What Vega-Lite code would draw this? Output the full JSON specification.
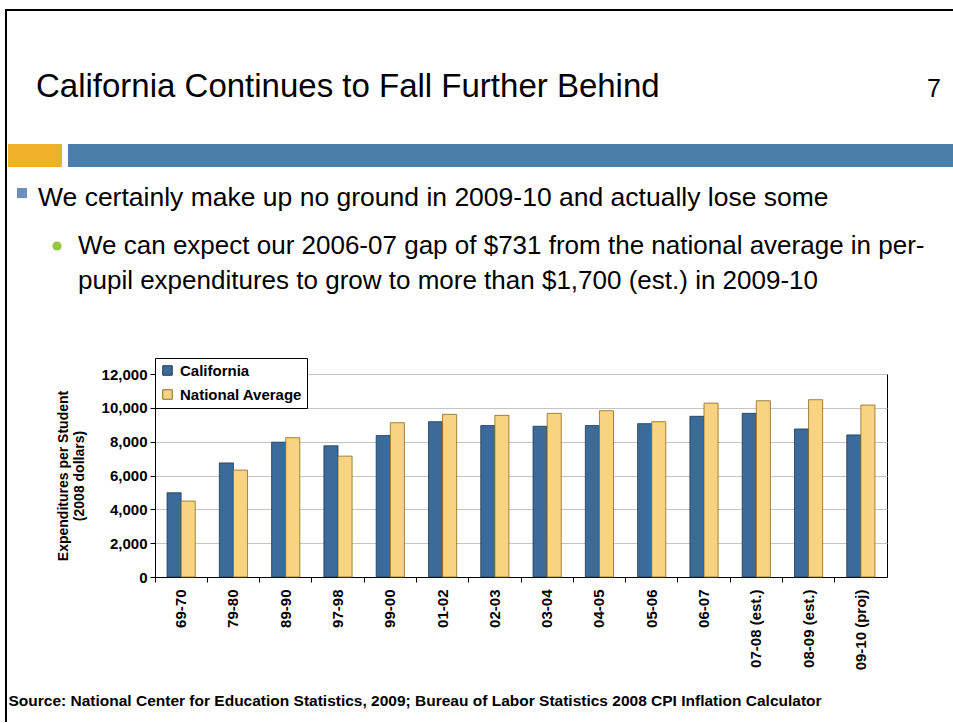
{
  "$schema": "https://vega.github.io/schema/vega-lite/v6.json",
  "autosize": {"type": "pad"},
  "padding": {"left": 5, "top": 9, "right": 0, "bottom": 0},
  "background": "white",
  "bounds": "flush",
  "align": "each",
  "columns": 7,
  "spacing": 0,
  "resolve": {
    "scale": {"color": "independent", "stroke": "independent"},
    "legend": {"color": "independent", "stroke": "independent"}
  },
  "config": {
    "view": {"stroke": null},
    "font": "Liberation Sans, Arial, sans-serif"
  },
  "datasets": {
    "spend": [
      {"period": "69-70", "series": "California", "value": 4980},
      {"period": "69-70", "series": "National Average", "value": 4490},
      {"period": "79-80", "series": "California", "value": 6745},
      {"period": "79-80", "series": "National Average", "value": 6320},
      {"period": "89-90", "series": "California", "value": 7970},
      {"period": "89-90", "series": "National Average", "value": 8235},
      {"period": "97-98", "series": "California", "value": 7755},
      {"period": "97-98", "series": "National Average", "value": 7145},
      {"period": "99-00", "series": "California", "value": 8360},
      {"period": "99-00", "series": "National Average", "value": 9120},
      {"period": "01-02", "series": "California", "value": 9180},
      {"period": "01-02", "series": "National Average", "value": 9615},
      {"period": "02-03", "series": "California", "value": 8950},
      {"period": "02-03", "series": "National Average", "value": 9555},
      {"period": "03-04", "series": "California", "value": 8910},
      {"period": "03-04", "series": "National Average", "value": 9675},
      {"period": "04-05", "series": "California", "value": 8950},
      {"period": "04-05", "series": "National Average", "value": 9830},
      {"period": "05-06", "series": "California", "value": 9065},
      {"period": "05-06", "series": "National Average", "value": 9180},
      {"period": "06-07", "series": "California", "value": 9500},
      {"period": "06-07", "series": "National Average", "value": 10280},
      {"period": "07-08 (est.)", "series": "California", "value": 9675},
      {"period": "07-08 (est.)", "series": "National Average", "value": 10420},
      {"period": "08-09 (est.)", "series": "California", "value": 8750},
      {"period": "08-09 (est.)", "series": "National Average", "value": 10480},
      {"period": "09-10 (proj)", "series": "California", "value": 8400},
      {"period": "09-10 (proj)", "series": "National Average", "value": 10165}
    ],
    "bullets": [
      {"line": 1, "level": 1, "text": "We certainly make up no ground in 2009-10 and actually lose some"},
      {"line": 2, "level": 2, "text": "We can expect our 2006-07 gap of $731 from the national average in per-"},
      {"line": 3, "level": 2, "text": "pupil expenditures to grow to more than $1,700 (est.) in 2009-10"}
    ]
  },
  "concat": [
    {"width": 2, "height": 2, "data": {"values": []}, "mark": {"type": "rule"}, "encoding": {}, "view": {"fill": "#000000", "stroke": null}},
    {"width": 1, "height": 2, "data": {"values": []}, "mark": {"type": "rule"}, "encoding": {}, "view": {"fill": "#000000", "stroke": null}},
    {"width": 54, "height": 2, "data": {"values": []}, "mark": {"type": "rule"}, "encoding": {}, "view": {"fill": "#000000", "stroke": null}},
    {"width": 6, "height": 2, "data": {"values": []}, "mark": {"type": "rule"}, "encoding": {}, "view": {"fill": "#000000", "stroke": null}},
    {"width": 87, "height": 2, "data": {"values": []}, "mark": {"type": "rule"}, "encoding": {}, "view": {"fill": "#000000", "stroke": null}},
    {"width": 732, "height": 2, "data": {"values": []}, "mark": {"type": "rule"}, "encoding": {}, "view": {"fill": "#000000", "stroke": null}},
    {"width": 66, "height": 2, "data": {"values": []}, "mark": {"type": "rule"}, "encoding": {}, "view": {"fill": "#000000", "stroke": null}},

    {"width": 2, "height": 133, "data": {"values": []}, "mark": {"type": "rule"}, "encoding": {}, "view": {"fill": "#000000", "stroke": null}},
    {"width": 1, "height": 133, "data": {"values": []}, "mark": {"type": "rule"}, "encoding": {}},
    {"width": 54, "height": 133, "data": {"values": []}, "mark": {"type": "rule"}, "encoding": {}},
    {"width": 6, "height": 133, "data": {"values": []}, "mark": {"type": "rule"}, "encoding": {}},
    {"width": 87, "height": 133, "data": {"values": []}, "mark": {"type": "rule"}, "encoding": {}},
    {"width": 732, "height": 133, "data": {"values": []}, "mark": {"type": "rule"}, "encoding": {}},
    {"width": 66, "height": 133, "data": {"values": []}, "mark": {"type": "rule"}, "encoding": {}},

    {"width": 2, "height": 23, "data": {"values": []}, "mark": {"type": "rule"}, "encoding": {}, "view": {"fill": "#000000", "stroke": null}},
    {"width": 1, "height": 23, "data": {"values": []}, "mark": {"type": "rule"}, "encoding": {}},
    {
      "width": 54, "height": 23,
      "data": {"values": []}, "mark": {"type": "rule"}, "encoding": {},
      "view": {"fill": "#EFB12A", "stroke": null},
      "title": {
        "text": "California Continues to Fall Further Behind",
        "anchor": "start", "frame": "group", "dx": 28, "offset": 14,
        "baseline": "alphabetic", "fontSize": 33, "fontWeight": "normal", "color": "#000000"
      }
    },
    {"width": 6, "height": 23, "data": {"values": []}, "mark": {"type": "rule"}, "encoding": {}},
    {"width": 87, "height": 23, "data": {"values": []}, "mark": {"type": "rule"}, "encoding": {}, "view": {"fill": "#4B7EA8", "stroke": null}},
    {"width": 732, "height": 23, "data": {"values": []}, "mark": {"type": "rule"}, "encoding": {}, "view": {"fill": "#4B7EA8", "stroke": null}},
    {
      "width": 66, "height": 23,
      "data": {"values": []}, "mark": {"type": "rule"}, "encoding": {},
      "view": {"fill": "#4B7EA8", "stroke": null},
      "title": {
        "text": "7",
        "anchor": "end", "frame": "group", "dx": -12, "offset": 22,
        "baseline": "alphabetic", "fontSize": 25, "fontWeight": "normal", "color": "#000000"
      }
    },

    {"width": 2, "height": 207, "data": {"values": []}, "mark": {"type": "rule"}, "encoding": {}, "view": {"fill": "#000000", "stroke": null}},
    {"width": 1, "height": 207, "data": {"values": []}, "mark": {"type": "rule"}, "encoding": {}},
    {"width": 54, "height": 207, "data": {"values": []}, "mark": {"type": "rule"}, "encoding": {}},
    {"width": 6, "height": 207, "data": {"values": []}, "mark": {"type": "rule"}, "encoding": {}},
    {
      "width": 87, "height": 207,
      "data": {"name": "bullets"},
      "resolve": {"scale": {"x": "independent", "y": "independent"}},
      "layer": [
        {
          "transform": [{"filter": "datum.level == 1"}],
          "mark": {"type": "text", "align": "left", "baseline": "alphabetic", "fontSize": 26.5, "dy": -13, "color": "#000000"},
          "encoding": {
            "x": {"field": "level", "type": "ordinal", "scale": {"type": "point", "domain": [1, 2], "range": [-30, 10], "padding": 0}, "axis": null},
            "y": {"field": "line", "type": "ordinal", "scale": {"type": "point", "domain": [1, 2, 3], "range": [52, 122], "padding": 0}, "axis": null},
            "text": {"field": "text"}
          }
        },
        {
          "transform": [{"filter": "datum.level == 2"}],
          "mark": {"type": "text", "align": "left", "baseline": "alphabetic", "fontSize": 26, "color": "#000000"},
          "encoding": {
            "x": {"field": "level", "type": "ordinal", "scale": {"type": "point", "domain": [1, 2], "range": [-30, 10], "padding": 0}, "axis": null},
            "y": {"field": "line", "type": "ordinal", "scale": {"type": "point", "domain": [1, 2, 3], "range": [52, 122], "padding": 0}, "axis": null},
            "text": {"field": "text"}
          }
        },
        {
          "transform": [{"filter": "datum.level == 1"}],
          "mark": {"type": "point", "shape": "square", "filled": true, "size": 100, "color": "#6C90B8", "opacity": 1},
          "encoding": {
            "x": {"field": "level", "type": "ordinal", "scale": {"type": "point", "domain": [1, 2], "range": [-46, -11], "padding": 0}, "axis": null},
            "y": {"field": "line", "type": "ordinal", "scale": {"type": "point", "domain": [1, 2, 3], "range": [26, 96], "padding": 0}, "axis": null}
          }
        },
        {
          "transform": [{"filter": "datum.level == 2 && datum.line == 2"}],
          "mark": {"type": "point", "shape": "circle", "filled": true, "size": 85, "color": "#92C83E", "opacity": 1},
          "encoding": {
            "x": {"field": "level", "type": "ordinal", "scale": {"type": "point", "domain": [1, 2], "range": [-46, -11], "padding": 0}, "axis": null},
            "y": {"field": "line", "type": "ordinal", "scale": {"type": "point", "domain": [1, 2, 3], "range": [44, 114], "padding": 0}, "axis": null}
          }
        }
      ]
    },
    {"width": 732, "height": 207, "data": {"values": []}, "mark": {"type": "rule"}, "encoding": {}},
    {"width": 66, "height": 207, "data": {"values": []}, "mark": {"type": "rule"}, "encoding": {}},

    {"width": 2, "height": 203, "data": {"values": []}, "mark": {"type": "rule"}, "encoding": {}, "view": {"fill": "#000000", "stroke": null}},
    {"width": 1, "height": 203, "data": {"values": []}, "mark": {"type": "rule"}, "encoding": {}},
    {"width": 54, "height": 203, "data": {"values": []}, "mark": {"type": "rule"}, "encoding": {}},
    {"width": 6, "height": 203, "data": {"values": []}, "mark": {"type": "rule"}, "encoding": {}},
    {"width": 87, "height": 203, "data": {"values": []}, "mark": {"type": "rule"}, "encoding": {}},
    {
      "width": 732,
      "height": 203,
      "data": {"name": "spend"},
      "view": {"stroke": "#000000", "strokeWidth": 1},
      "mark": {"type": "bar", "strokeWidth": 0.8},
      "encoding": {
        "x": {
          "field": "period",
          "type": "nominal",
          "sort": null,
          "scale": {"paddingInner": 0, "paddingOuter": 0},
          "axis": {
            "title": "Source: National Center for Education Statistics, 2009; Bureau of Labor Statistics 2008 CPI Inflation Calculator",
            "titleX": -147,
            "titleY": 128,
            "titleAlign": "left",
            "titleAnchor": "start",
            "titleBaseline": "alphabetic",
            "titleFontSize": 15.5,
            "titleFontWeight": "bold",
            "titleColor": "#000000",
            "labelAngle": -90,
            "bandPosition": 0,
            "labelFontSize": 15,
            "labelFontWeight": "bold",
            "labelColor": "#000000",
            "labelPadding": 7,
            "tickSize": 5,
            "tickColor": "#000000",
            "domainColor": "#000000",
            "grid": false
          }
        },
        "xOffset": {
          "field": "series",
          "type": "nominal",
          "sort": ["California", "National Average"],
          "scale": {"paddingOuter": 0.855, "paddingInner": 0}
        },
        "y": {
          "field": "value",
          "type": "quantitative",
          "scale": {"domain": [0, 12000]},
          "axis": {
            "values": [0, 2000, 4000, 6000, 8000, 10000, 12000],
            "format": ",d",
            "title": ["Expenditures per Student", "(2008 dollars)"],
            "titleFontSize": 14,
            "titleFontWeight": "bold",
            "titleColor": "#000000",
            "titlePadding": 15,
            "labelFontSize": 15,
            "labelFontWeight": "bold",
            "labelColor": "#000000",
            "labelPadding": 3,
            "tickSize": 5,
            "tickColor": "#000000",
            "domainColor": "#000000",
            "gridColor": "#C4C4C4",
            "gridWidth": 1
          }
        },
        "color": {
          "field": "series",
          "type": "nominal",
          "scale": {"domain": ["California", "National Average"], "range": ["#3B6C99", "#F8D381"]},
          "legend": {
            "orient": "none",
            "legendX": 0,
            "legendY": -16,
            "direction": "vertical",
            "title": null,
            "fillColor": "#FFFFFF",
            "strokeColor": "#000000",
            "padding": 5,
            "symbolType": "square",
            "symbolSize": 90,
            "symbolStrokeColor": "#222222",
            "symbolStrokeWidth": 1,
            "symbolOpacity": 1,
            "labelFontSize": 15,
            "labelFontWeight": "bold",
            "labelColor": "#000000",
            "labelOffset": 5,
            "rowPadding": 8
          }
        },
        "stroke": {
          "field": "series",
          "type": "nominal",
          "scale": {"domain": ["California", "National Average"], "range": ["#1D3550", "#8A6A1E"]},
          "legend": null
        }
      }
    },
    {"width": 66, "height": 203, "data": {"values": []}, "mark": {"type": "rule"}, "encoding": {}},

    {"width": 2, "height": 145, "data": {"values": []}, "mark": {"type": "rule"}, "encoding": {}, "view": {"fill": "#000000", "stroke": null}},
    {"width": 1, "height": 145, "data": {"values": []}, "mark": {"type": "rule"}, "encoding": {}},
    {"width": 54, "height": 145, "data": {"values": []}, "mark": {"type": "rule"}, "encoding": {}},
    {"width": 6, "height": 145, "data": {"values": []}, "mark": {"type": "rule"}, "encoding": {}},
    {"width": 87, "height": 145, "data": {"values": []}, "mark": {"type": "rule"}, "encoding": {}},
    {"width": 732, "height": 145, "data": {"values": []}, "mark": {"type": "rule"}, "encoding": {}},
    {"width": 66, "height": 145, "data": {"values": []}, "mark": {"type": "rule"}, "encoding": {}}
  ]
}
